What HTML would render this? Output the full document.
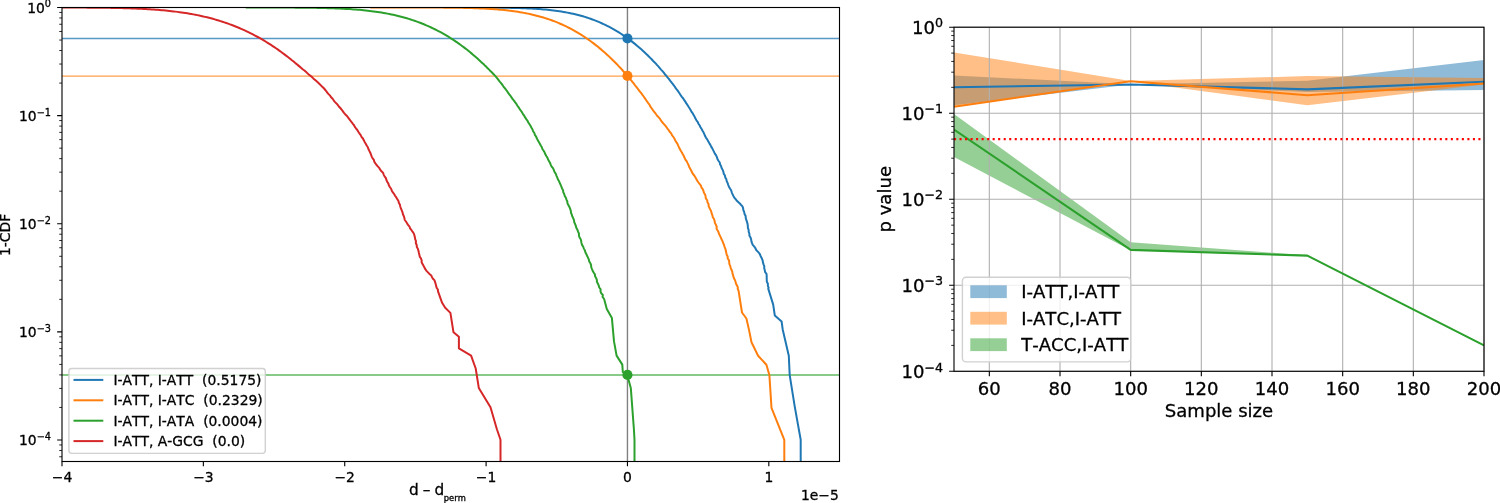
<!DOCTYPE html>
<html lang="en"><head><meta charset="utf-8"><title>Figure</title>
<style>html,body{margin:0;padding:0;background:#fff;overflow:hidden}svg{display:block}</style>
</head><body>
<svg width="1500" height="503" viewBox="0 0 1500 503" font-family="'DejaVu Sans','Liberation Sans',sans-serif" style="font-kerning:none">
<rect width="1500" height="503" fill="#fff"/>
<defs><clipPath id="cl"><rect x="62" y="7.5" width="777.5" height="454"/></clipPath>
<clipPath id="cr"><rect x="954" y="27.2" width="530" height="344.1"/></clipPath></defs>
<g clip-path="url(#cl)" fill="none">
<line x1="62" x2="839.5" y1="38.5" y2="38.5" stroke="#1f77b4" stroke-opacity="0.75" stroke-width="1.39"/>
<line x1="62" x2="839.5" y1="76.15" y2="76.15" stroke="#ff7f0e" stroke-opacity="0.75" stroke-width="1.39"/>
<line x1="62" x2="839.5" y1="375" y2="375" stroke="#2ca02c" stroke-opacity="0.75" stroke-width="1.39"/>
<line x1="627.45" x2="627.45" y1="7.5" y2="461.5" stroke="#808080" stroke-width="1.39"/>
<path d="M489.63,7.61 L491.63,7.62 L493.63,7.64 L495.63,7.66 L497.63,7.68 L499.63,7.7 L501.63,7.72 L503.63,7.75 L505.63,7.78 L507.62,7.82 L509.62,7.85 L511.62,7.9 L513.62,7.94 L515.62,7.99 L517.62,8.05 L519.62,8.11 L521.62,8.18 L523.62,8.25 L525.62,8.33 L527.62,8.42 L529.61,8.51 L531.61,8.62 L533.61,8.73 L535.6,8.85 L537.6,8.98 L539.59,9.12 L541.59,9.28 L543.58,9.44 L545.57,9.62 L547.56,9.81 L549.55,10.02 L551.54,10.24 L553.53,10.48 L555.51,10.73 L557.49,11 L559.47,11.28 L561.45,11.59 L563.42,11.91 L565.39,12.26 L567.36,12.62 L569.32,13 L571.28,13.41 L573.24,13.84 L575.18,14.29 L577.13,14.76 L579.06,15.26 L580.99,15.78 L582.92,16.33 L584.84,16.9 L586.74,17.5 L588.65,18.12 L590.54,18.77 L592.42,19.44 L594.29,20.15 L596.16,20.87 L598.01,21.63 L599.85,22.41 L601.68,23.21 L603.5,24.04 L605.31,24.9 L607.1,25.79 L608.88,26.69 L610.65,27.63 L612.41,28.59 L614.15,29.57 L615.88,30.58 L617.59,31.61 L619.29,32.66 L620.98,33.74 L622.65,34.84 L624.31,35.96 L625.95,37.1 L627.57,38.26 L629.19,39.45 L630.79,40.65 L632.37,41.87 L633.94,43.11 L635.49,44.37 L637.03,45.65 L638.56,46.94 L640.07,48.25 L641.56,49.58 L643.05,50.92 L644.51,52.28 L645.97,53.65 L647.41,55.04 L648.84,56.44 L650.25,57.86 L651.65,59.28 L652.94,60.73 L654.45,62.18 L655.88,63.64 L657.13,65.12 L658.56,66.61 L659.78,68.1 L661.03,69.61 L662.48,71.13 L663.77,72.66 L664.86,74.2 L666.32,75.74 L667.48,77.3 L668.84,78.87 L669.94,80.44 L671.12,82.02 L672.52,83.61 L673.65,85.21 L674.91,86.81 L675.85,88.42 L677.24,90.04 L678.42,91.67 L679.46,93.3 L680.54,94.94 L681.66,96.58 L683.04,98.24 L684.11,99.89 L685.28,101.55 L686.17,103.22 L687.42,104.89 L688.42,106.57 L689.52,108.25 L690.6,109.95 L691.42,111.66 L692.79,113.37 L693.59,115.09 L694.67,116.82 L695.44,118.55 L696.45,120.29 L697.82,122.03 L698.47,123.78 L699.68,125.53 L700.49,127.28 L701.62,129.04 L702.54,130.79 L703.63,132.55 L704.43,134.31 L705.1,136.07 L706.09,137.82 L707.38,139.58 L708.19,141.33 L709.24,143.09 L710.36,144.84 L711.14,146.59 L712.29,148.34 L713.16,150.1 L714.02,151.86 L714.84,153.62 L716.13,155.39 L716.86,157.16 L717.48,158.94 L718.44,160.73 L719.76,162.53 L720.05,164.34 L721.12,166.16 L721.63,168.01 L722.64,169.88 L723.42,171.76 L723.67,173.65 L724.92,175.55 L725.27,177.43 L726.34,179.3 L726.68,181.16 L727.61,182.98 L728.21,184.83 L728.95,186.7 L730.01,188.58 L731.21,190.46 L731.74,192.32 L732.53,194.14 L733.38,195.92 L734.29,197.63 L735.75,199.26 L736.85,200.8 L738.42,202.22 L739.78,203.42 L740.93,204.77 L742.44,206.36 L743.11,208.1 L743.27,209.96 L744.13,211.91 L744.54,213.91 L745.64,215.94 L745.74,217.97 L746.3,219.97 L747.02,221.91 L747.56,223.87 L747.81,225.84 L747.88,227.82 L748.6,229.78 L748.69,231.74 L749.39,233.71 L749.43,235.67 L750.56,237.61 L751.13,239.51 L751.44,241.35 L752.01,243.14 L752.75,244.88 L754.32,246.58 L755.42,248.26 L756.15,249.94 L757.81,251.61 L759.34,253.3 L760.21,255.02 L760.93,256.78 L761.91,258.59 L762.62,260.45 L762.96,262.35 L763.51,264.27 L764.28,266.2 L764.21,268.13 L764.76,270.06 L765.09,272 L766.48,273.95 L766.69,275.91 L766.69,277.87 L766.75,279.84 L766.87,281.82 L767.89,283.81 L767.87,285.81 L768.64,287.82 L768.24,288.6 L773.2,304.6 L774.8,315.5 L781.6,321.5 L782.7,329.4 L788.8,355.8 L789.7,375.1 L794.7,406.4 L800.7,439.8 L800.7,470" stroke="#1f77b4" stroke-width="2" stroke-linejoin="round"/>
<path d="M370.17,7.5 L372.17,7.5 L374.17,7.5 L376.17,7.5 L378.17,7.5 L380.17,7.5 L382.17,7.5 L384.17,7.5 L386.17,7.5 L388.17,7.5 L390.17,7.5 L392.17,7.5 L394.17,7.5 L396.17,7.51 L398.17,7.51 L400.17,7.51 L402.17,7.51 L404.17,7.51 L406.17,7.51 L408.17,7.51 L410.17,7.52 L412.17,7.52 L414.17,7.52 L416.17,7.52 L418.17,7.53 L420.17,7.53 L422.17,7.54 L424.17,7.54 L426.17,7.55 L428.17,7.55 L430.17,7.56 L432.17,7.57 L434.17,7.58 L436.17,7.59 L438.17,7.6 L440.17,7.61 L442.17,7.62 L444.17,7.64 L446.17,7.66 L448.17,7.67 L450.17,7.7 L452.17,7.72 L454.17,7.74 L456.17,7.77 L458.17,7.8 L460.17,7.84 L462.17,7.87 L464.17,7.92 L466.17,7.96 L468.17,8.01 L470.17,8.06 L472.17,8.12 L474.17,8.19 L476.17,8.25 L478.16,8.33 L480.16,8.41 L482.16,8.5 L484.16,8.6 L486.16,8.7 L488.15,8.81 L490.15,8.93 L492.14,9.06 L494.14,9.2 L496.13,9.35 L498.13,9.51 L500.12,9.69 L502.11,9.87 L504.1,10.07 L506.09,10.28 L508.08,10.5 L510.06,10.74 L512.05,10.99 L514.03,11.26 L516.01,11.55 L517.99,11.85 L519.96,12.17 L521.93,12.5 L523.9,12.86 L525.87,13.23 L527.83,13.63 L529.78,14.04 L531.74,14.48 L533.68,14.93 L535.63,15.41 L537.56,15.91 L539.49,16.43 L541.42,16.97 L543.34,17.54 L545.25,18.13 L547.15,18.74 L549.05,19.38 L550.93,20.04 L552.81,20.73 L554.68,21.44 L556.54,22.17 L558.39,22.93 L560.23,23.72 L562.06,24.52 L563.88,25.35 L565.69,26.21 L567.49,27.09 L569.27,27.99 L571.05,28.91 L572.81,29.86 L574.56,30.83 L576.3,31.82 L578.02,32.84 L579.73,33.87 L581.43,34.93 L583.11,36.01 L584.78,37.11 L586.44,38.23 L588.08,39.37 L589.72,40.52 L591.33,41.7 L592.94,42.9 L594.53,44.11 L596.1,45.34 L597.67,46.59 L599.22,47.85 L600.75,49.13 L602.28,50.43 L603.79,51.74 L605.28,53.07 L606.77,54.41 L608.24,55.76 L609.69,57.13 L611.14,58.52 L612.57,59.91 L613.96,61.32 L615.44,62.74 L616.9,64.17 L618.21,65.62 L619.49,67.07 L621.01,68.54 L622.29,70.02 L623.55,71.5 L624.93,73 L626.31,74.51 L627.48,76.02 L628.96,77.55 L630.11,79.08 L631.44,80.63 L632.55,82.18 L633.98,83.74 L635,85.31 L636.39,86.88 L637.51,88.47 L638.8,90.06 L639.93,91.66 L641.35,93.26 L642.45,94.87 L643.68,96.49 L644.78,98.11 L645.91,99.74 L647,101.38 L648.16,103.03 L649.45,104.69 L650.25,106.35 L651.41,108.01 L652.58,109.66 L653.79,111.28 L655.11,112.88 L656.2,114.47 L657.36,116.04 L658.94,117.61 L660.21,119.17 L661.09,120.72 L662.33,122.28 L663.69,123.84 L665.09,125.4 L666.34,126.97 L667.39,128.56 L668.78,130.15 L669.67,131.77 L671.21,133.41 L671.93,135.07 L673.21,136.75 L674.4,138.45 L675.11,140.17 L676.19,141.91 L677.33,143.66 L678.1,145.42 L678.93,147.19 L679.86,148.96 L680.77,150.74 L681.9,152.51 L682.79,154.29 L683.86,156.05 L684.54,157.81 L685.41,159.57 L686.78,161.34 L687.59,163.12 L688.46,164.9 L689.1,166.68 L690.09,168.46 L691.04,170.23 L691.9,172 L692.78,173.76 L694.26,175.51 L695.33,177.24 L696.32,178.95 L697.19,180.62 L698.29,182.25 L699.53,183.88 L700.91,185.54 L701.36,187.28 L702.73,189.06 L703.43,190.88 L703.93,192.73 L705.07,194.59 L705.63,196.48 L705.8,198.36 L707.22,200.25 L707.44,202.13 L708.53,204 L708.6,205.87 L709.34,207.75 L710.36,209.63 L711.21,211.51 L711.64,213.4 L712.4,215.29 L712.77,217.18 L713.99,219.06 L714.62,220.95 L714.93,222.84 L715.88,224.74 L716.71,226.64 L716.53,228.52 L717.59,230.39 L718.53,232.22 L719.05,234.04 L720.02,235.85 L720.86,237.68 L721.68,239.52 L722.59,241.38 L723.24,243.26 L724.13,245.14 L724.62,247.04 L725.44,248.93 L725.83,250.83 L726.27,252.74 L726.69,254.66 L727.7,256.58 L727.68,258.5 L729.06,260.42 L729.17,262.34 L729.5,264.26 L730.3,266.18 L730.73,268.08 L731.57,269.98 L732.31,271.88 L732.57,273.78 L733.21,275.67 L733.67,277.56 L734.6,279.45 L735.47,281.33 L735.85,283.22 L736.65,285.1 L737.79,286.97 L737.73,288.85 L738.54,290.6 L742,312.5 L746.4,318.5 L748.9,329.4 L751.5,342.3 L758.1,355.8 L766.4,364.7 L769.4,375.1 L771.5,407.9 L784.3,439.8 L784.3,470" stroke="#ff7f0e" stroke-width="2" stroke-linejoin="round"/>
<path d="M245.77,7.51 L247.77,7.51 L249.77,7.51 L251.77,7.51 L253.77,7.51 L255.77,7.51 L257.77,7.51 L259.77,7.52 L261.77,7.52 L263.77,7.52 L265.77,7.52 L267.77,7.53 L269.77,7.53 L271.77,7.53 L273.77,7.54 L275.77,7.54 L277.77,7.55 L279.77,7.55 L281.77,7.56 L283.77,7.57 L285.77,7.57 L287.77,7.58 L289.77,7.59 L291.77,7.6 L293.77,7.62 L295.77,7.63 L297.77,7.64 L299.77,7.66 L301.77,7.68 L303.77,7.7 L305.77,7.72 L307.77,7.74 L309.77,7.77 L311.77,7.8 L313.77,7.83 L315.77,7.86 L317.77,7.9 L319.77,7.94 L321.77,7.98 L323.77,8.03 L325.77,8.08 L327.77,8.13 L329.77,8.19 L331.77,8.26 L333.76,8.33 L335.76,8.4 L337.76,8.49 L339.76,8.57 L341.76,8.67 L343.76,8.77 L345.75,8.88 L347.75,8.99 L349.74,9.12 L351.74,9.25 L353.74,9.39 L355.73,9.54 L357.72,9.7 L359.72,9.87 L361.71,10.06 L363.7,10.25 L365.69,10.45 L367.68,10.67 L369.66,10.9 L371.65,11.14 L373.63,11.4 L375.61,11.67 L377.59,11.96 L379.57,12.26 L381.54,12.58 L383.52,12.91 L385.49,13.26 L387.45,13.62 L389.42,14.01 L391.37,14.41 L393.33,14.83 L395.28,15.27 L397.23,15.73 L399.17,16.2 L401.11,16.7 L403.04,17.22 L404.97,17.75 L406.89,18.31 L408.8,18.89 L410.71,19.49 L412.61,20.11 L414.51,20.75 L416.39,21.41 L418.27,22.1 L420.14,22.8 L422.01,23.53 L423.86,24.28 L425.71,25.05 L427.54,25.84 L429.37,26.66 L431.19,27.49 L432.99,28.35 L434.79,29.23 L436.58,30.13 L438.36,31.05 L440.12,31.99 L441.88,32.95 L443.62,33.93 L445.35,34.93 L447.07,35.95 L448.78,36.98 L450.48,38.04 L452.16,39.12 L453.84,40.21 L455.5,41.32 L457.15,42.45 L458.79,43.6 L460.42,44.77 L462.03,45.95 L463.63,47.14 L465.22,48.36 L466.8,49.58 L468.37,50.83 L469.92,52.09 L471.47,53.36 L473,54.65 L474.52,55.95 L476.02,57.26 L477.52,58.59 L479,59.93 L480.38,61.28 L481.91,62.65 L483.47,64.02 L484.81,65.41 L486.34,66.81 L487.66,68.22 L489.13,69.65 L490.42,71.07 L492,72.5 L493.35,73.95 L494.74,75.42 L496.04,76.92 L497.24,78.44 L498.54,79.98 L499.71,81.53 L501.04,83.1 L502.22,84.68 L503.3,86.27 L504.54,87.87 L505.82,89.48 L507.04,91.09 L508.06,92.71 L509.25,94.33 L510.58,95.96 L511.66,97.58 L512.72,99.21 L514.13,100.84 L515.23,102.47 L516.53,104.11 L517.41,105.75 L518.65,107.39 L519.72,109.05 L520.9,110.71 L522.08,112.37 L522.95,114.04 L524.21,115.72 L525.13,117.41 L526.27,119.1 L527.58,120.8 L528.31,122.52 L529.51,124.24 L530.61,125.98 L531.49,127.73 L532.54,129.49 L533.09,131.25 L534.37,133.03 L534.86,134.8 L536.16,136.58 L536.76,138.36 L537.81,140.14 L538.84,141.91 L539.83,143.68 L540.77,145.45 L541.85,147.22 L542.4,148.98 L543.63,150.75 L544.65,152.51 L545.33,154.27 L546.32,156.04 L547.45,157.8 L548.14,159.57 L549.05,161.34 L550.17,163.11 L550.73,164.89 L551.69,166.66 L553.12,168.45 L553.86,170.23 L554.59,172.02 L555.83,173.82 L556.39,175.62 L557.22,177.42 L557.85,179.24 L558.95,181.06 L559.74,182.89 L560.53,184.72 L561.37,186.57 L562.03,188.42 L563.08,190.27 L563.21,192.13 L564.2,194 L564.67,195.86 L565.86,197.73 L566.48,199.61 L567.3,201.48 L567.48,203.35 L568.47,205.22 L569.46,207.09 L570.22,208.97 L570.82,210.85 L570.97,212.73 L571.78,214.61 L572.34,216.5 L573.28,218.38 L574.05,220.27 L574.18,222.16 L575.12,224.04 L575.85,225.93 L576.3,227.82 L577.37,229.72 L578.08,231.61 L578.91,233.51 L578.95,235.41 L579.47,237.31 L580.71,239.2 L581.19,241.1 L581.45,242.99 L582.07,244.87 L583.2,246.75 L583.89,248.62 L584.92,250.48 L585.38,252.33 L586.37,254.17 L587.2,256.01 L588.09,257.84 L588.85,259.66 L589.25,261.49 L590.42,263.32 L591.09,265.15 L591.19,267 L591.9,268.85 L592.67,270.7 L593.63,272.56 L594.91,274.43 L595.11,276.29 L596.2,278.16 L596.91,280.03 L596.93,281.9 L597.99,283.77 L598.77,285.64 L599.25,287.51 L600.67,289.39 L600.45,291.26 L601.17,293.13 L602.82,295.01 L602.56,296.88 L604,298.76 L604.4,300 L606.8,309 L611.9,318.1 L614,341.4 L616.6,355.6 L622.3,364.6 L622.8,372 L627.2,375 L630.8,387.9 L633.9,429.2 L634.5,439.8 L634.5,470" stroke="#2ca02c" stroke-width="2" stroke-linejoin="round"/>
<path d="M33.73,7.51 L35.73,7.51 L37.73,7.51 L39.73,7.51 L41.73,7.51 L43.73,7.51 L45.73,7.51 L47.73,7.52 L49.73,7.52 L51.73,7.52 L53.73,7.52 L55.73,7.53 L57.73,7.53 L59.73,7.53 L61.73,7.54 L63.73,7.54 L65.73,7.54 L67.73,7.55 L69.73,7.55 L71.73,7.56 L73.73,7.57 L75.73,7.57 L77.73,7.58 L79.73,7.59 L81.73,7.6 L83.73,7.61 L85.73,7.62 L87.73,7.64 L89.73,7.65 L91.73,7.66 L93.73,7.68 L95.73,7.7 L97.73,7.72 L99.73,7.74 L101.73,7.76 L103.73,7.78 L105.73,7.81 L107.73,7.84 L109.73,7.87 L111.73,7.9 L113.73,7.94 L115.72,7.98 L117.72,8.02 L119.72,8.07 L121.72,8.11 L123.72,8.17 L125.72,8.22 L127.72,8.28 L129.72,8.35 L131.72,8.41 L133.72,8.49 L135.72,8.57 L137.71,8.65 L139.71,8.74 L141.71,8.83 L143.71,8.93 L145.7,9.04 L147.7,9.15 L149.7,9.28 L151.69,9.4 L153.69,9.54 L155.68,9.68 L157.68,9.83 L159.67,9.99 L161.66,10.16 L163.66,10.34 L165.65,10.53 L167.64,10.73 L169.63,10.94 L171.61,11.16 L173.6,11.39 L175.59,11.63 L177.57,11.88 L179.55,12.15 L181.53,12.43 L183.51,12.72 L185.49,13.02 L187.46,13.34 L189.44,13.67 L191.41,14.02 L193.37,14.38 L195.34,14.75 L197.3,15.14 L199.26,15.55 L201.21,15.97 L203.16,16.41 L205.11,16.86 L207.06,17.33 L209,17.82 L210.93,18.32 L212.86,18.84 L214.79,19.38 L216.71,19.94 L218.63,20.51 L220.54,21.1 L222.44,21.71 L224.34,22.34 L226.23,22.99 L228.12,23.65 L230,24.33 L231.87,25.03 L233.74,25.75 L235.6,26.49 L237.45,27.25 L239.29,28.02 L241.13,28.81 L242.96,29.62 L244.78,30.45 L246.59,31.3 L248.4,32.16 L250.19,33.04 L251.98,33.94 L253.75,34.86 L255.52,35.79 L257.28,36.75 L259.03,37.72 L260.77,38.7 L262.5,39.7 L264.23,40.72 L265.94,41.76 L267.64,42.81 L269.33,43.87 L271.01,44.95 L272.69,46.05 L274.35,47.16 L276,48.29 L277.64,49.43 L279.28,50.58 L280.9,51.75 L282.51,52.94 L284.11,54.14 L285.7,55.35 L287.28,56.58 L288.86,57.81 L290.42,59.06 L291.93,60.31 L293.62,61.56 L295.02,62.83 L296.64,64.09 L298.16,65.37 L299.69,66.64 L301.27,67.93 L302.67,69.22 L304.43,70.51 L305.91,71.81 L307.29,73.12 L308.73,74.43 L310.46,75.74 L311.92,77.06 L313.31,78.38 L314.81,79.7 L316.38,81.03 L317.93,82.38 L319.25,83.74 L320.66,85.14 L322.02,86.56 L323.61,88.02 L324.91,89.51 L326.17,91.02 L327.27,92.55 L328.56,94.1 L330.11,95.65 L331.06,97.21 L332.63,98.77 L333.64,100.33 L334.83,101.88 L336.46,103.42 L337.71,104.96 L338.83,106.49 L340.31,108.02 L341.62,109.56 L342.77,111.09 L343.81,112.63 L345.13,114.18 L346.71,115.73 L347.97,117.29 L349.13,118.86 L350.24,120.43 L351.58,122.02 L352.68,123.63 L354.04,125.24 L354.84,126.87 L356.07,128.5 L357.41,130.15 L358.32,131.8 L359.4,133.46 L360.7,135.14 L361.5,136.82 L362.92,138.51 L363.82,140.22 L364.64,141.93 L365.74,143.67 L366.69,145.43 L367.82,147.23 L368.4,149.04 L369.32,150.87 L370.27,152.71 L370.99,154.54 L371.6,156.36 L372.48,158.17 L373.86,159.95 L374.32,161.69 L375.42,163.39 L376.54,165.03 L378,166.62 L379.39,168.18 L380.21,169.74 L381.47,171.31 L383.18,172.93 L383.63,174.61 L384.57,176.35 L385.91,178.13 L386.4,179.94 L387.18,181.77 L388.4,183.6 L388.94,185.42 L390.02,187.22 L391.24,188.99 L391.78,190.72 L392.87,192.41 L394.21,194.09 L395.04,195.76 L396.31,197.44 L397.35,199.16 L398.45,200.92 L398.81,202.74 L399.84,204.6 L400.29,206.5 L400.89,208.43 L401.76,210.36 L402.52,212.29 L402.92,214.2 L403.82,216.09 L404.4,217.94 L404.64,219.74 L405.93,221.49 L407.04,223.2 L408.03,224.89 L409.5,226.57 L410.04,228.26 L411.38,229.96 L412.53,231.69 L413.8,233.46 L414.4,235.29 L414.86,237.18 L415.15,239.1 L415.99,241.06 L415.81,243.02 L416.7,244.99 L416.84,246.94 L417.88,248.86 L418.46,250.78 L418.86,252.71 L419.35,254.65 L419.72,256.58 L420.98,258.49 L421.68,260.39 L421.62,262.25 L422.52,264.08 L423.55,265.86 L424.44,267.57 L425.31,269.22 L426.54,270.81 L427.96,272.36 L429.43,273.9 L431.33,275.46 L431.86,277.05 L432.96,278.7 L434.58,280.43 L435.05,282.2 L435.71,284.02 L436.11,285.88 L436.67,287.78 L437.94,289.71 L437.94,291.1 L442.1,302.8 L445.2,307.8 L450.4,312.9 L453.5,332.3 L458.9,336.7 L458.9,348.3 L471.1,355.6 L475.7,368.5 L478.8,387.9 L490.5,407.3 L496.9,429.2 L500.5,439.8 L500.5,470" stroke="#d62728" stroke-width="2" stroke-linejoin="round"/>
<circle cx="627.45" cy="38.43" r="5.05" fill="#1f77b4"/>
<circle cx="627.45" cy="75.92" r="5.05" fill="#ff7f0e"/>
<circle cx="627.45" cy="374.9" r="5.05" fill="#2ca02c"/>
</g>
<rect x="62" y="7.5" width="777.5" height="454" fill="none" stroke="#000" stroke-width="1.11"/>
<path d="M62,461.5 v4.86 M203.36,461.5 v4.86 M344.73,461.5 v4.86 M486.09,461.5 v4.86 M627.45,461.5 v4.86 M768.82,461.5 v4.86 M62,7.5 h-4.86 M62,115.62 h-4.86 M62,223.75 h-4.86 M62,331.88 h-4.86 M62,440 h-4.86" stroke="#000" stroke-width="1.11" fill="none"/>
<path d="M62,83.08 h-2.78 M62,64.04 h-2.78 M62,50.53 h-2.78 M62,40.05 h-2.78 M62,31.49 h-2.78 M62,24.25 h-2.78 M62,17.98 h-2.78 M62,12.45 h-2.78 M62,191.2 h-2.78 M62,172.16 h-2.78 M62,158.65 h-2.78 M62,148.17 h-2.78 M62,139.61 h-2.78 M62,132.37 h-2.78 M62,126.1 h-2.78 M62,120.57 h-2.78 M62,299.33 h-2.78 M62,280.29 h-2.78 M62,266.78 h-2.78 M62,256.3 h-2.78 M62,247.74 h-2.78 M62,240.5 h-2.78 M62,234.23 h-2.78 M62,228.7 h-2.78 M62,407.45 h-2.78 M62,388.41 h-2.78 M62,374.9 h-2.78 M62,364.42 h-2.78 M62,355.86 h-2.78 M62,348.62 h-2.78 M62,342.35 h-2.78 M62,336.82 h-2.78 M62,456.75 h-2.78 M62,450.48 h-2.78 M62,444.95 h-2.78" stroke="#000" stroke-width="0.83" fill="none"/>
<g font-size="13.89" fill="#000" stroke="#000" stroke-width="0.3">
<text x="62" y="481.9" text-anchor="middle">−4</text>
<text x="203.36" y="481.9" text-anchor="middle">−3</text>
<text x="344.73" y="481.9" text-anchor="middle">−2</text>
<text x="486.09" y="481.9" text-anchor="middle">−1</text>
<text x="627.45" y="481.9" text-anchor="middle">0</text>
<text x="768.82" y="481.9" text-anchor="middle">1</text>
<text x="51" y="12.5" text-anchor="end">10<tspan dy="-5.1" font-size="9.72">0</tspan></text>
<text x="51" y="120.62" text-anchor="end">10<tspan dy="-5.1" font-size="9.72">−1</tspan></text>
<text x="51" y="228.75" text-anchor="end">10<tspan dy="-5.1" font-size="9.72">−2</tspan></text>
<text x="51" y="336.88" text-anchor="end">10<tspan dy="-5.1" font-size="9.72">−3</tspan></text>
<text x="51" y="445" text-anchor="end">10<tspan dy="-5.1" font-size="9.72">−4</tspan></text>
<text x="838.8" y="500.1" text-anchor="end">1e−5</text>
<text x="409.1" y="495.3" font-size="15.3" word-spacing="-0.8" xml:space="preserve">d – d</text>
<text x="443.8" y="500.5" font-size="8.35">perm</text>
<text transform="translate(10.1,234.9) rotate(-90)" text-anchor="middle">1-CDF</text>
</g>
<rect x="68.9" y="368.5" width="196.4" height="84.9" rx="2.8" fill="#fff" fill-opacity="0.8" stroke="#ccc" stroke-opacity="0.9" stroke-width="1.39"/>
<g font-size="13.89" fill="#000" stroke="#000" stroke-width="0.3">
<line x1="74.5" x2="102.3" y1="379.9" y2="379.9" stroke="#1f77b4" stroke-width="2" stroke-linecap="square"/>
<text x="113.4" y="384.8" xml:space="preserve">I-ATT, I-ATT  (0.5175)</text>
<line x1="74.5" x2="102.3" y1="400.3" y2="400.3" stroke="#ff7f0e" stroke-width="2" stroke-linecap="square"/>
<text x="113.4" y="405.2" xml:space="preserve">I-ATT, I-ATC  (0.2329)</text>
<line x1="74.5" x2="102.3" y1="420.7" y2="420.7" stroke="#2ca02c" stroke-width="2" stroke-linecap="square"/>
<text x="113.4" y="425.6" xml:space="preserve">I-ATT, I-ATA  (0.0004)</text>
<line x1="74.5" x2="102.3" y1="441.1" y2="441.1" stroke="#d62728" stroke-width="2" stroke-linecap="square"/>
<text x="113.4" y="446" xml:space="preserve">I-ATT, A-GCG  (0.0)</text>
</g>
<g clip-path="url(#cr)">
<path d="M954,75.43 L1130.67,84.37 L1307.33,80.67 L1484,59.97 L1484,90.04 L1307.33,92.1 L1130.67,84.54 L954,105.19Z" fill="#1f77b4" fill-opacity="0.5"/>
<path d="M954,52.5 L1130.67,81.07 L1307.33,76.12 L1484,78.11 L1484,84.45 L1307.33,105.34 L1130.67,81.38 L954,106.73Z" fill="#ff7f0e" fill-opacity="0.5"/>
<path d="M954,114.09 L1130.67,242.29 L1307.33,255.31 L1484,345.03 L1484,345.78 L1307.33,255.99 L1130.67,250.16 L954,156.98Z" fill="#2ca02c" fill-opacity="0.5"/>
</g>
<path d="M989.33,27.2 V371.3 M1060,27.2 V371.3 M1130.67,27.2 V371.3 M1201.33,27.2 V371.3 M1272,27.2 V371.3 M1342.67,27.2 V371.3 M1413.33,27.2 V371.3 M1484,27.2 V371.3 M954,27.2 H1484 M954,113.23 H1484 M954,199.25 H1484 M954,285.28 H1484 M954,371.3 H1484" stroke="#b0b0b0" stroke-width="1.11" fill="none"/>
<g clip-path="url(#cr)">
<path d="M954,87.33 L1130.67,84.45 L1307.33,89.34 L1484,81.78" fill="none" stroke="#1f77b4" stroke-width="2.08" stroke-linejoin="round"/>
<path d="M954,106.73 L1130.67,81.22 L1307.33,95.2 L1484,83.43" fill="none" stroke="#ff7f0e" stroke-width="2.08" stroke-linejoin="round"/>
<path d="M954,129.49 L1130.67,249.87 L1307.33,255.65 L1484,345.4" fill="none" stroke="#2ca02c" stroke-width="2.08" stroke-linejoin="round"/>
<line x1="954" x2="1484" y1="139.12" y2="139.12" stroke="#ff0000" stroke-width="2.08" stroke-dasharray="2.08 3.44"/>
</g>
<rect x="954" y="27.2" width="530" height="344.1" fill="none" stroke="#000" stroke-width="1.11"/>
<path d="M989.33,371.3 v4.86 M1060,371.3 v4.86 M1130.67,371.3 v4.86 M1201.33,371.3 v4.86 M1272,371.3 v4.86 M1342.67,371.3 v4.86 M1413.33,371.3 v4.86 M1484,371.3 v4.86 M954,27.2 h-4.86 M954,113.23 h-4.86 M954,199.25 h-4.86 M954,285.28 h-4.86 M954,371.3 h-4.86" stroke="#000" stroke-width="1.11" fill="none"/>
<path d="M954,87.33 h-2.78 M954,72.18 h-2.78 M954,61.43 h-2.78 M954,53.1 h-2.78 M954,46.28 h-2.78 M954,40.53 h-2.78 M954,35.54 h-2.78 M954,31.14 h-2.78 M954,173.35 h-2.78 M954,158.21 h-2.78 M954,147.46 h-2.78 M954,139.12 h-2.78 M954,132.31 h-2.78 M954,126.55 h-2.78 M954,121.56 h-2.78 M954,117.16 h-2.78 M954,259.38 h-2.78 M954,244.23 h-2.78 M954,233.48 h-2.78 M954,225.15 h-2.78 M954,218.33 h-2.78 M954,212.58 h-2.78 M954,207.59 h-2.78 M954,203.19 h-2.78 M954,345.4 h-2.78 M954,330.26 h-2.78 M954,319.51 h-2.78 M954,311.17 h-2.78 M954,304.36 h-2.78 M954,298.6 h-2.78 M954,293.61 h-2.78 M954,289.21 h-2.78" stroke="#000" stroke-width="0.83" fill="none"/>
<g font-size="18.06" fill="#000" stroke="#000" stroke-width="0.3">
<text x="989.33" y="395.22" text-anchor="middle">60</text>
<text x="1060" y="395.22" text-anchor="middle">80</text>
<text x="1130.67" y="395.22" text-anchor="middle">100</text>
<text x="1201.33" y="395.22" text-anchor="middle">120</text>
<text x="1272" y="395.22" text-anchor="middle">140</text>
<text x="1342.67" y="395.22" text-anchor="middle">160</text>
<text x="1413.33" y="395.22" text-anchor="middle">180</text>
<text x="1484" y="395.22" text-anchor="middle">200</text>
<text x="943" y="34.2" text-anchor="end">10<tspan dy="-6.8" font-size="12.64">0</tspan></text>
<text x="943" y="120.23" text-anchor="end">10<tspan dy="-6.8" font-size="12.64">−1</tspan></text>
<text x="943" y="206.25" text-anchor="end">10<tspan dy="-6.8" font-size="12.64">−2</tspan></text>
<text x="943" y="292.28" text-anchor="end">10<tspan dy="-6.8" font-size="12.64">−3</tspan></text>
<text x="943" y="378.3" text-anchor="end">10<tspan dy="-6.8" font-size="12.64">−4</tspan></text>
<text x="1219" y="417.3" text-anchor="middle">Sample size</text>
<text transform="translate(891.3,199.25) rotate(-90)" text-anchor="middle">p value</text>
</g>
<rect x="962.4" y="277.2" width="168.3" height="84.7" rx="3.6" fill="#fff" fill-opacity="0.8" stroke="#ccc" stroke-opacity="0.9" stroke-width="1.39"/>
<g font-size="18.06" fill="#000" stroke="#000" stroke-width="0.3">
<rect x="970.3" y="285.3" width="36.5" height="12.8" fill="#1f77b4" fill-opacity="0.5" stroke="none"/>
<text x="1021.2" y="298">I-ATT,I-ATT</text>
<rect x="970.3" y="311.8" width="36.5" height="12.8" fill="#ff7f0e" fill-opacity="0.5" stroke="none"/>
<text x="1021.2" y="324.5">I-ATC,I-ATT</text>
<rect x="970.3" y="338.3" width="36.5" height="12.8" fill="#2ca02c" fill-opacity="0.5" stroke="none"/>
<text x="1021.2" y="351">T-ACC,I-ATT</text>
</g>
</svg>
</body></html>
